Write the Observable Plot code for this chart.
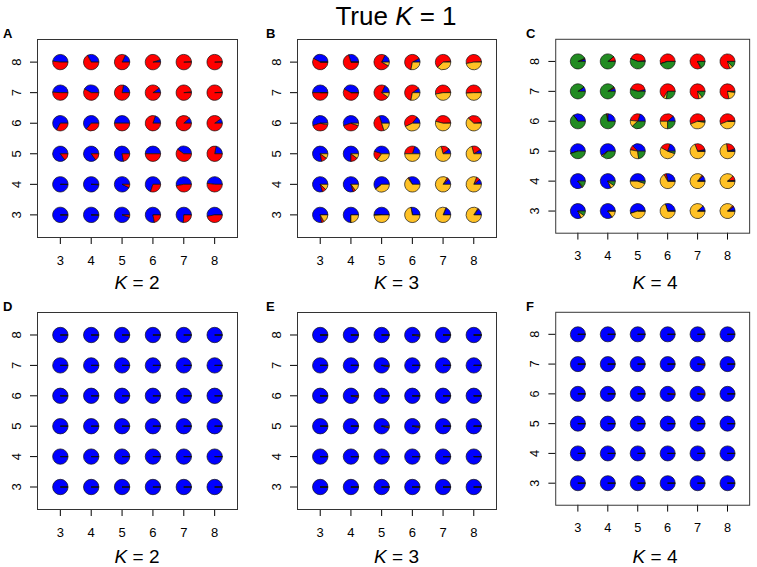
<!DOCTYPE html>
<html><head><meta charset="utf-8">
<script src="https://cdn.jsdelivr.net/npm/d3@7"></script>
<script src="https://cdn.jsdelivr.net/npm/@observablehq/plot@0.6"></script>
<style>
body{margin:0;background:#fff;}
#chart{position:relative;width:757px;height:567px;background:#fff;font-family:"Liberation Sans",Arial,Helvetica,sans-serif;color:#000;overflow:hidden}
.abs{position:absolute;white-space:nowrap;line-height:1}
.abs svg{display:block}
</style></head><body><div id="chart"></div>
<script>
const xs = [3, 4, 5, 6, 7, 8];
const ys = [8, 7, 6, 5, 4, 3]; // rows, top to bottom
const clusterColors = ["#0000FF", "#FF0000", "#FFC125", "#228B22"];
const titleText = "True";
const trueK = 1;
const panelLetters = ["A", "B", "C", "D", "E", "F"];
const panelK = [2, 3, 4, 2, 3, 4];

// Panel A (K = 2): membership proportions, rows y = 8..3, columns x = 3..8
const A_blue = [
  [0.48, 0.33, 0.18, 0.05, 0.01, 0.01],
  [0.49, 0.42, 0.22, 0.10, 0.02, 0.01],
  [0.67, 0.64, 0.50, 0.20, 0.12, 0.10],
  [0.85, 0.85, 0.78, 0.50, 0.40, 0.22],
  [0.995, 0.99, 0.93, 0.70, 0.53, 0.48],
  [0.995, 0.99, 0.95, 0.78, 0.74, 0.53]];
const A_red = [
  [0.52, 0.67, 0.82, 0.95, 0.99, 0.99],
  [0.51, 0.58, 0.78, 0.90, 0.98, 0.99],
  [0.33, 0.36, 0.50, 0.80, 0.88, 0.90],
  [0.15, 0.15, 0.22, 0.50, 0.60, 0.78],
  [0.005, 0.01, 0.07, 0.30, 0.47, 0.52],
  [0.005, 0.01, 0.05, 0.22, 0.26, 0.47]];

// Panel B (K = 3)
const B_blue = [
  [0.42, 0.30, 0.18, 0.08, 0.02, 0.01],
  [0.50, 0.42, 0.18, 0.10, 0.01, 0.01],
  [0.55, 0.55, 0.30, 0.15, 0.01, 0.02],
  [0.78, 0.75, 0.45, 0.20, 0.11, 0.09],
  [0.80, 0.80, 0.60, 0.33, 0.12, 0.11],
  [0.78, 0.75, 0.50, 0.28, 0.18, 0.14]];
const B_red = [
  [0.58, 0.70, 0.74, 0.64, 0.60, 0.52],
  [0.50, 0.58, 0.72, 0.62, 0.52, 0.50],
  [0.42, 0.40, 0.50, 0.42, 0.45, 0.36],
  [0.12, 0.15, 0.20, 0.30, 0.18, 0.20],
  [0.08, 0.05, 0.01, 0.02, 0.04, 0.08],
  [0.05, 0.00, 0.01, 0.00, 0.01, 0.02]];
const B_yellow = [
  [0.00, 0.00, 0.08, 0.28, 0.38, 0.47],
  [0.00, 0.00, 0.10, 0.28, 0.47, 0.49],
  [0.03, 0.05, 0.20, 0.43, 0.54, 0.62],
  [0.10, 0.10, 0.35, 0.50, 0.71, 0.71],
  [0.12, 0.15, 0.39, 0.65, 0.84, 0.81],
  [0.17, 0.25, 0.49, 0.72, 0.81, 0.84]];

// Panel C (K = 4)
const C_blue = [
  [0.05, 0.01, 0.02, 0.00, 0.00, 0.00],
  [0.10, 0.07, 0.04, 0.00, 0.00, 0.00],
  [0.35, 0.25, 0.20, 0.12, 0.01, 0.01],
  [0.55, 0.60, 0.37, 0.20, 0.04, 0.05],
  [0.85, 0.82, 0.50, 0.28, 0.12, 0.02],
  [0.82, 0.85, 0.55, 0.30, 0.12, 0.10]];
const C_red = [
  [0.02, 0.10, 0.42, 0.55, 0.82, 0.80],
  [0.00, 0.03, 0.40, 0.66, 0.78, 0.78],
  [0.00, 0.03, 0.28, 0.38, 0.55, 0.55],
  [0.00, 0.00, 0.10, 0.22, 0.27, 0.22],
  [0.00, 0.00, 0.00, 0.05, 0.03, 0.10],
  [0.00, 0.00, 0.00, 0.00, 0.00, 0.03]];
const C_yellow = [
  [0.00, 0.00, 0.00, 0.00, 0.02, 0.07],
  [0.00, 0.00, 0.02, 0.06, 0.08, 0.20],
  [0.00, 0.00, 0.14, 0.25, 0.42, 0.44],
  [0.00, 0.03, 0.30, 0.53, 0.69, 0.73],
  [0.02, 0.08, 0.45, 0.67, 0.85, 0.88],
  [0.08, 0.15, 0.45, 0.70, 0.88, 0.87]];
const C_green = [
  [0.93, 0.89, 0.56, 0.45, 0.16, 0.13],
  [0.90, 0.90, 0.54, 0.28, 0.14, 0.02],
  [0.65, 0.72, 0.38, 0.25, 0.02, 0.00],
  [0.45, 0.37, 0.23, 0.05, 0.00, 0.00],
  [0.13, 0.10, 0.05, 0.00, 0.00, 0.00],
  [0.10, 0.00, 0.00, 0.00, 0.00, 0.00]];

// Panels D–F: almost pure membership in one cluster
const D_blue = [
  [1, 1, 1, 1, 1, 1], [1, 1, 1, 1, 1, 1], [1, 1, 1, 1, 1, 1],
  [1, 1, 1, 1, 1, 1], [1, 1, 1, 1, 1, 1], [1, 1, 1, 1, 1, 1]];
const D_red = [
  [0, 0, 0, 0, 0, 0], [0, 0, 0, 0, 0, 0], [0, 0, 0, 0, 0, 0],
  [0, 0, 0, 0, 0, 0], [0, 0, 0, 0, 0, 0], [0, 0, 0, 0, 0, 0]];
const E_blue = [
  [1, 1, 1, 0.975, 1, 1], [1, 1, 0.97, 1, 1, 1], [1, 0.97, 1, 1, 1, 1],
  [1, 1, 0.965, 0.97, 1, 1], [1, 1, 1, 1, 1, 1], [1, 1, 1, 1, 1, 1]];
const E_red = [
  [0, 0, 0, 0.015, 0, 0], [0, 0, 0.02, 0, 0, 0], [0, 0.03, 0, 0, 0, 0],
  [0, 0, 0.02, 0.02, 0, 0], [0, 0, 0, 0, 0, 0], [0, 0, 0, 0, 0, 0]];
const E_yellow = [
  [0, 0, 0, 0.01, 0, 0], [0, 0, 0.01, 0, 0, 0], [0, 0, 0, 0, 0, 0],
  [0, 0, 0.015, 0.01, 0, 0], [0, 0, 0, 0, 0, 0], [0, 0, 0, 0, 0, 0]];
const F_blue = [
  [1, 1, 1, 1, 1, 1], [1, 1, 1, 1, 0.98, 1], [1, 1, 1, 0.985, 0.98, 1],
  [1, 1, 1, 1, 1, 1], [1, 1, 1, 1, 1, 1], [1, 1, 1, 1, 1, 1]];
const F_red = [
  [0, 0, 0, 0, 0, 0], [0, 0, 0, 0, 0.02, 0], [0, 0, 0, 0.015, 0.02, 0],
  [0, 0, 0, 0, 0, 0], [0, 0, 0, 0, 0, 0], [0, 0, 0, 0, 0, 0]];

const panelComps = [
  [A_blue, A_red],
  [B_blue, B_red, B_yellow],
  [C_blue, C_red, C_yellow, C_green],
  [D_blue, D_red],
  [E_blue, E_red, E_yellow],
  [F_blue, F_red]
];

// pie wedge symbol (R pie: starts at 3 o'clock, counter-clockwise)
function wedge(a0, a1) {
  return {
    draw(ctx, size) {
      const r = Math.sqrt(size / Math.PI);
      ctx.moveTo(0, 0);
      ctx.arc(0, 0, r, -a0, -a1, true);
      ctx.closePath();
    }
  };
}

function buildRecords(comps) {
  const recs = [];
  ys.forEach((yv, i) => {
    xs.forEach((xv, j) => {
      const total = d3.sum(comps, c => c[i][j]);
      let cum = 0;
      comps.forEach((c, k) => {
        const v = c[i][j] / total;
        const a0 = cum * 2 * Math.PI;
        cum += v;
        const a1 = Math.min(cum, 1) * 2 * Math.PI;
        recs.push({x: xv, y: yv, color: clusterColors[k], sym: wedge(a0, a1)});
      });
    });
  });
  return recs;
}

const chart = document.getElementById("chart");
function addDiv(html, left, top, style) {
  const d = document.createElement("div");
  d.className = "abs";
  d.innerHTML = html;
  d.style.left = left + "px";
  d.style.top = top + "px";
  Object.assign(d.style, style || {});
  chart.appendChild(d);
  return d;
}

const frameLefts = [37, 297, 556];
const frameWidths = [200, 199, 198];
const frameTops = [39, 312];
const frameHeights = [198, 197];
const mL = 37, mR = 8, mT = 10, mB = 42;

panelComps.forEach((comps, p) => {
  const col = p % 3, row = Math.floor(p / 3);
  const fw = frameWidths[col], fh = frameHeights[row];
  const svg = Plot.plot({
    width: mL + fw + mR,
    height: mT + fh + mB,
    marginLeft: mL, marginRight: mR, marginTop: mT, marginBottom: mB,
    style: {background: "transparent", fontFamily: "'Liberation Sans', Arial, sans-serif", fontSize: "13px", color: "#000", overflow: "visible"},
    x: {domain: [2.26, 8.74], ticks: xs, tickSize: 7, tickPadding: 11, tickFormat: d => String(d), label: null},
    y: {domain: [2.26, 8.74], ticks: ys, tickSize: 7, tickPadding: 10, tickRotate: -90, tickFormat: d => String(d), label: null},
    marks: [
      Plot.frame({stroke: "#333", strokeWidth: 1}),
      Plot.dot(buildRecords(comps), {x: "x", y: "y", fill: "color", symbol: d => d.sym, r: 7.7, stroke: "#111", strokeWidth: 0.7})
    ]
  });
  const holder = addDiv("", frameLefts[col] - mL, frameTops[row] - mT);
  holder.appendChild(svg);
  // panel letter
  const letterX = [3, 266, 526][col];
  addDiv("<b>" + panelLetters[p] + "</b>", letterX, frameTops[row] - 12, {fontSize: "13px", fontWeight: "bold"});
  // K label below
  const cx = frameLefts[col] + fw / 2;
  const ky = [273, 547][row];
  addDiv("<i>K</i> = " + panelK[p], cx, ky, {fontSize: "19px", transform: "translateX(-50%)"});
});

addDiv(titleText + " <i>K</i> = " + trueK, 396, 3, {fontSize: "26px", transform: "translateX(-50%)"});
</script>
</body></html>
